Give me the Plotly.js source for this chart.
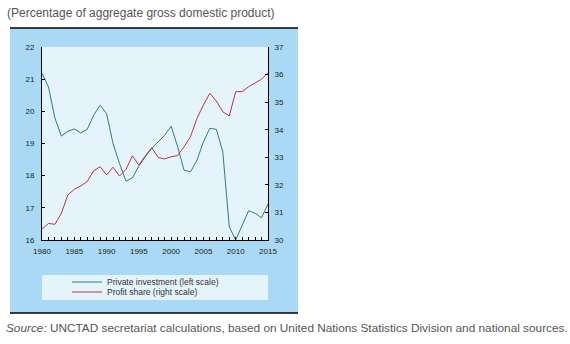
<!DOCTYPE html>
<html><head><meta charset="utf-8">
<script src="https://cdn.plot.ly/plotly-3.0.1.min.js"></script>
<style>html,body{margin:0;padding:0;background:#fff;overflow:hidden}</style>
</head><body><div id="chart" style="width:570px;height:344px"></div>
<script>
const years = [1980,1981,1982,1983,1984,1985,1986,1987,1988,1989,1990,1991,1992,1993,1994,1995,1996,1997,1998,1999,2000,2001,2002,2003,2004,2005,2006,2007,2008,2009,2010,2011,2012,2013,2014,2015];
const privateInvestment = [21.18,20.76,19.79,19.23,19.38,19.45,19.33,19.44,19.88,20.19,19.93,19.0,18.38,17.83,17.93,18.3,18.59,18.85,19.05,19.26,19.54,18.9,18.17,18.12,18.48,19.05,19.47,19.44,18.74,16.41,16.0,16.47,16.91,16.83,16.69,17.12];
const profitShare = [30.39,30.6,30.57,30.97,31.63,31.84,31.96,32.12,32.51,32.66,32.36,32.64,32.32,32.56,33.05,32.72,33.05,33.35,32.99,32.94,33.02,33.06,33.38,33.75,34.41,34.9,35.32,35.04,34.65,34.5,35.38,35.38,35.56,35.71,35.83,36.07];
const seriesNames = ["Private investment (left scale)", "Profit share (right scale)"];
const titleText = "(Percentage of aggregate gross domestic product)";
const sourceText = "<i>Source:</i> UNCTAD secretariat calculations, based on United Nations Statistics Division and national sources.";

const FONT = "Liberation Sans, Arial, sans-serif";
const W = 226, H = 193, L = 42, T = 47;
const px = v => (v - L) / W;
const py = v => (T + H - v) / H;

const traces = [
  {x: years, y: privateInvestment, name: seriesNames[0], type: 'scatter', mode: 'lines',
   line: {color: '#2f7f7d', width: 1}, yaxis: 'y', legend: 'legend'},
  {x: years, y: profitShare, name: seriesNames[1], type: 'scatter', mode: 'lines',
   line: {color: '#b8324b', width: 1}, yaxis: 'y2', legend: 'legend2'}
];

const tickFont = {family: FONT, size: 8, color: '#222'};
const layout = {
  width: 570, height: 344,
  margin: {l: L, r: 570 - L - W, t: T, b: 344 - T - H, pad: 0},
  paper_bgcolor: '#ffffff',
  plot_bgcolor: '#e5f3fb',
  showlegend: true,
  xaxis: {range: [1980, 2015], tick0: 1980, dtick: 5, ticks: 'inside', ticklen: 3, tickcolor: '#000',
    minor: {dtick: 1, ticks: 'inside', ticklen: 3, tickcolor: '#000'},
    showline: true, linecolor: '#000', linewidth: 1, showgrid: false, zeroline: false,
    tickfont: tickFont, ticklabelstandoff: 3, fixedrange: true},
  yaxis: {range: [16, 22], dtick: 1, ticks: 'inside', ticklen: 3, tickcolor: '#000',
    showline: true, linecolor: '#000', linewidth: 1, showgrid: false, zeroline: false,
    tickfont: tickFont, ticklabelstandoff: 5},
  yaxis2: {range: [30, 37], dtick: 1, ticks: 'inside', ticklen: 3, tickcolor: '#000',
    overlaying: 'y', side: 'right',
    showline: true, linecolor: '#000', linewidth: 1, showgrid: false, zeroline: false,
    tickfont: tickFont, ticklabelstandoff: 4},
  legend: {x: px(67), y: py(282), xanchor: 'left', yanchor: 'middle', bgcolor: 'rgba(0,0,0,0)',
    font: {family: FONT, size: 8.5, color: '#333'}, borderwidth: 0},
  legend2: {x: px(67), y: py(292), xanchor: 'left', yanchor: 'middle', bgcolor: 'rgba(0,0,0,0)',
    font: {family: FONT, size: 8.5, color: '#333'}, borderwidth: 0},
  shapes: [
    {type: 'rect', xref: 'paper', yref: 'paper', x0: px(10), x1: px(298), y0: py(313), y1: py(28),
     fillcolor: '#aad9f5', line: {width: 0}, layer: 'below'},
    {type: 'rect', xref: 'paper', yref: 'paper', x0: 0, x1: 1, y0: 0, y1: 1,
     fillcolor: '#e5f3fb', line: {width: 0}, layer: 'below'},
    {type: 'rect', xref: 'paper', yref: 'paper', x0: 0, x1: 1, y0: py(300), y1: py(275),
     fillcolor: '#e5f3fb', line: {width: 0}, layer: 'below'},
    {type: 'line', xref: 'paper', yref: 'paper', x0: px(10), x1: px(298), y0: py(28), y1: py(28),
     line: {color: '#000', width: 1.5}},
    {type: 'line', xref: 'paper', yref: 'paper', x0: px(10), x1: px(298), y0: py(313), y1: py(313),
     line: {color: '#000', width: 1.5}}
  ],
  annotations: [
    {text: titleText, xref: 'paper', yref: 'paper', x: px(5), y: py(13), xanchor: 'left', yanchor: 'middle',
     showarrow: false, font: {family: FONT, size: 12, color: '#555'}},
    {text: sourceText, xref: 'paper', yref: 'paper', x: px(4), y: py(328), xanchor: 'left', yanchor: 'middle',
     showarrow: false, font: {family: FONT, size: 11.8, color: '#555'}}
  ]
};
Plotly.newPlot('chart', traces, layout, {displayModeBar: false, staticPlot: true});
</script></body></html>
